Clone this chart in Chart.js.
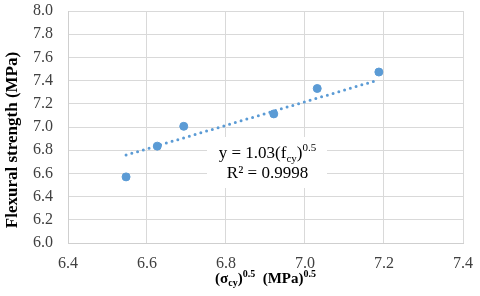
<!DOCTYPE html>
<html>
<head>
<meta charset="utf-8">
<script src="https://cdn.jsdelivr.net/npm/chart.js@4.4.1/dist/chart.umd.min.js"></script>
<style>
    body { margin: 0; background: #fff; }
    canvas { display: block; }
</style>
</head>
<body>
<canvas id="strength-chart" width="480" height="296"></canvas>
<script>
// measured points: sqrt(sigma_cy) vs flexural strength
const sigmaRoot = [6.547, 6.626, 6.693, 6.921, 7.031, 7.187];
const flexural = [6.570, 6.835, 7.006, 7.113, 7.332, 7.474];

// linear trend line end points
const trendX = [6.547, 7.187];
const trendY = [6.758, 7.407];

const xRange = [6.4, 7.4];
const yRange = [6.0, 8.0];
const tickStep = 0.2;

const blue = '#5b9bd5';
const serif = "'Liberation Serif', 'Times New Roman', serif";

function toPoints(xs, ys) {
    let pts = [];
    for (let i = 0; i < xs.length; i++) {
        pts.push({ x: xs[i], y: ys[i] });
    }
    return pts;
}

// draws a line of text made of runs (normal / sub / sup) centred on cx
function drawRuns(ctx, runs, cx, baseline) {
    let total = 0;
    runs.forEach(r => {
        ctx.font = r.font;
        r.w = ctx.measureText(r.text).width;
        total += r.w;
    });
    let x = cx - total / 2;
    ctx.textAlign = 'left';
    ctx.textBaseline = 'alphabetic';
    runs.forEach(r => {
        ctx.font = r.font;
        ctx.fillText(r.text, x, baseline + (r.dy || 0));
        x += r.w;
    });
}

const annotate = {
    id: 'annotate',
    beforeDatasetsDraw(chart) {
        const ctx = chart.ctx;
        ctx.save();
        ctx.fillStyle = '#ffffff';
        ctx.fillRect(207, 137, 120, 51);
        ctx.restore();
    },
    afterDraw(chart) {
        const ctx = chart.ctx;
        const area = chart.chartArea;
        ctx.save();
        ctx.fillStyle = '#000000';

        // equation
        const eq = '17px ' + serif;
        const eqSmall = '11px ' + serif;
        drawRuns(ctx, [
            { text: 'y = 1.03(f', font: eq },
            { text: 'cy', font: eqSmall, dy: 4 },
            { text: ')', font: eq },
            { text: '0.5', font: eqSmall, dy: -7 }
        ], 267.5, 158);
        drawRuns(ctx, [
            { text: 'R² = 0.9998', font: eq }
        ], 267.5, 178);

        // x axis title
        const xt = 'bold 15px ' + serif;
        const xtSmall = 'bold 10px ' + serif;
        drawRuns(ctx, [
            { text: '(σ', font: xt },
            { text: 'cy', font: xtSmall, dy: 3 },
            { text: ')', font: xt },
            { text: '0.5', font: xtSmall, dy: -6 },
            { text: '  (MPa)', font: xt },
            { text: '0.5', font: xtSmall, dy: -6 }
        ], (area.left + area.right) / 2, 283);

        // y axis title
        ctx.translate(13, 140);
        ctx.rotate(-Math.PI / 2);
        ctx.font = 'bold 17px ' + serif;
        ctx.textAlign = 'center';
        ctx.textBaseline = 'middle';
        ctx.fillText('Flexural strength (MPa)', 0, 0);
        ctx.restore();
    }
};

const chartElement = document.getElementById('strength-chart');
const strengthChart = new Chart(chartElement, {
    type: 'scatter',
    data: {
        datasets: [{
            label: 'Measured',
            data: toPoints(sigmaRoot, flexural),
            backgroundColor: blue,
            borderColor: blue,
            pointRadius: 4,
            pointHoverRadius: 4,
            order: 0
        }, {
            type: 'line',
            label: 'Linear trend',
            data: toPoints(trendX, trendY),
            borderColor: blue,
            borderWidth: 3,
            borderDash: [0, 6],
            borderCapStyle: 'round',
            pointRadius: 0,
            fill: false,
            order: 1
        }]
    },
    options: {
        responsive: false,
        devicePixelRatio: 1,
        animation: false,
        layout: { autoPadding: false, padding: { left: 0, top: 11, right: 17, bottom: 0 } },
        plugins: {
            legend: { display: false },
            tooltip: { enabled: false }
        },
        scales: {
            x: {
                type: 'linear',
                min: xRange[0],
                max: xRange[1],
                afterFit: function (scale) {
                    scale.height = 53;
                    scale.paddingLeft = 0;
                    scale.paddingRight = 0;
                },
                grid: { color: '#d9d9d9', drawTicks: false },
                border: { color: '#cfcfcf' },
                ticks: {
                    stepSize: tickStep,
                    autoSkip: false,
                    maxRotation: 0,
                    padding: 11,
                    color: '#404040',
                    font: { family: serif, size: 16 },
                    callback: v => v.toFixed(1)
                }
            },
            y: {
                type: 'linear',
                min: yRange[0],
                max: yRange[1],
                afterFit: function (scale) {
                    scale.width = 68;
                    scale.paddingTop = 0;
                    scale.paddingBottom = 0;
                },
                grid: { color: '#d9d9d9', drawTicks: false },
                border: { color: '#cfcfcf' },
                ticks: {
                    stepSize: tickStep,
                    autoSkip: false,
                    padding: 15,
                    color: '#404040',
                    font: { family: serif, size: 16 },
                    callback: v => v.toFixed(1)
                }
            }
        }
    },
    plugins: [annotate]
});
</script>
</body>
</html>
